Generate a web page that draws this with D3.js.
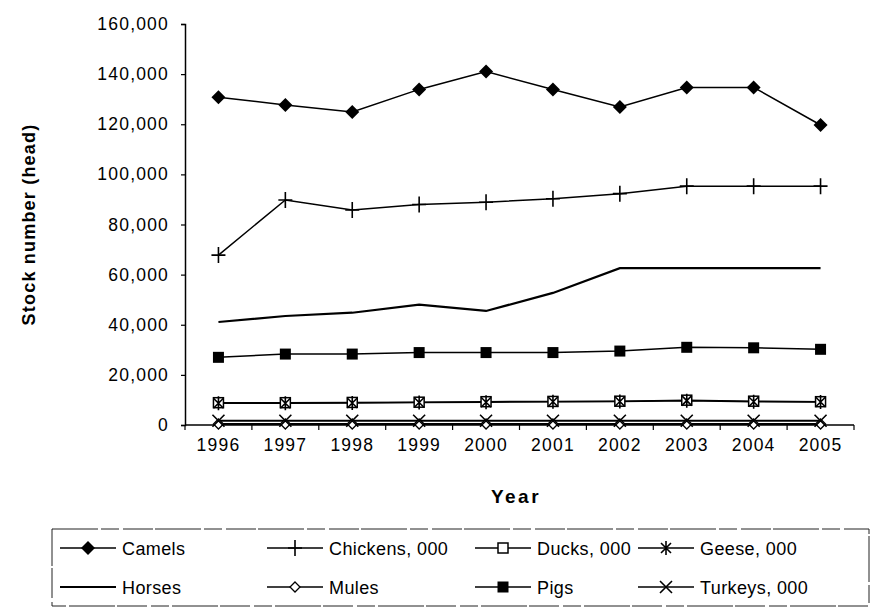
<!DOCTYPE html>
<html>
<head>
<meta charset="utf-8">
<script src="https://cdn.jsdelivr.net/npm/d3@7"></script>
<style>
  body { margin: 0; background: #fff; }
  text { font-family: Arial, "Liberation Sans", sans-serif; fill: #000; }
</style>
</head>
<body>
<div id="chart"></div>
<script>
// data
const years = [1996, 1997, 1998, 1999, 2000, 2001, 2002, 2003, 2004, 2005];
const camels   = [130800, 127700, 124900, 133900, 141000, 133900, 126900, 134700, 134700, 119700];
const chickens = [67800, 89800, 85800, 88000, 88900, 90300, 92300, 95300, 95300, 95300];
const ducks    = [8900, 8900, 9000, 9100, 9300, 9400, 9500, 9900, 9500, 9300];
const geese    = [8700, 8700, 8800, 9000, 9100, 9300, 9400, 9700, 9300, 9200];
const horses   = [41100, 43500, 44800, 48000, 45500, 52700, 62600, 62600, 62600, 62600];
const mules    = [400, 400, 400, 400, 400, 400, 400, 400, 400, 400];
const pigs     = [27000, 28300, 28300, 28900, 28900, 28900, 29500, 31000, 30800, 30200];
const turkeys  = [1700, 1700, 1700, 1700, 1700, 1700, 1700, 1700, 1700, 1700];
const yTicks = [0, 20000, 40000, 60000, 80000, 100000, 120000, 140000, 160000];

const series = [
    {name: "Camels", values: camels, marker: "diamond"},
    {name: "Chickens, 000", values: chickens, marker: "plus"},
    {name: "Ducks, 000", values: ducks, marker: "square"},
    {name: "Geese, 000", values: geese, marker: "star"},
    {name: "Horses", values: horses, marker: "none"},
    {name: "Mules", values: mules, marker: "diamondOpen"},
    {name: "Pigs", values: pigs, marker: "squareFilled"},
    {name: "Turkeys, 000", values: turkeys, marker: "cross"}
];

const W = 872, H = 609;
const margin = {top: 24, right: 18, bottom: 184, left: 185};
const width = W - margin.left - margin.right;
const height = H - margin.top - margin.bottom;

const svg = d3.select("#chart").append("svg")
    .attr("width", W)
    .attr("height", H);

const g = svg.append("g")
    .attr("transform", "translate(" + margin.left + "," + margin.top + ")");

// scales
const x = d3.scaleBand().domain(years).range([0, width]).padding(0);
const y = d3.scaleLinear().domain([0, 160000]).range([height, 0]);
const cx = d => x(d) + x.bandwidth() / 2;

// y axis
const yAxis = g.append("g")
    .attr("class", "axis axis--y")
    .call(d3.axisLeft(y).tickValues(yTicks).tickFormat(d3.format(",")).tickSize(4).tickPadding(12));
yAxis.select(".domain").attr("stroke", "#000").attr("stroke-width", 1.5);
yAxis.selectAll(".tick line").attr("stroke", "#000").attr("stroke-width", 1.2);
yAxis.selectAll("text").style("font-size", "17.5px").style("letter-spacing", "1.2px");

// x axis (labels centred, ticks between categories)
const xAxis = g.append("g")
    .attr("class", "axis axis--x")
    .attr("transform", "translate(0," + height + ")")
    .call(d3.axisBottom(x).tickSize(0).tickPadding(14));
xAxis.select(".domain").remove();
xAxis.selectAll("text").style("font-size", "17.5px").style("letter-spacing", "1.2px");

const edges = years.map(d => x(d)).concat([width]);
g.append("line")
    .attr("x1", 0).attr("x2", width)
    .attr("y1", height).attr("y2", height)
    .attr("stroke", "#000").attr("stroke-width", 1.5);
g.selectAll(".xtick").data(edges).enter().append("line")
    .attr("class", "xtick")
    .attr("x1", d => d).attr("x2", d => d)
    .attr("y1", height).attr("y2", height + 5)
    .attr("stroke", "#000").attr("stroke-width", 1.2);

// axis titles
svg.append("text")
    .attr("transform", "translate(35," + (margin.top + height / 2) + ") rotate(-90)")
    .attr("text-anchor", "middle")
    .style("font-size", "18px")
    .style("font-weight", "bold")
    .style("letter-spacing", "1.2px")
    .text("Stock number (head)");

svg.append("text")
    .attr("x", 516)
    .attr("y", 503)
    .attr("text-anchor", "middle")
    .style("font-size", "19px")
    .style("font-weight", "bold")
    .style("letter-spacing", "2.5px")
    .text("Year");

// marker drawing
function drawMarker(sel, type) {
    if (type === "diamond") {
        sel.append("path").attr("d", "M0,-7L7,0L0,7L-7,0Z").attr("fill", "#000");
    } else if (type === "diamondOpen") {
        sel.append("path").attr("d", "M0,-5L5,0L0,5L-5,0Z").attr("fill", "#fff").attr("stroke", "#000").attr("stroke-width", 1.3);
    } else if (type === "plus") {
        sel.append("path").attr("d", "M-7,0H7M0,-8V8").attr("stroke", "#000").attr("stroke-width", 1.6);
    } else if (type === "square") {
        sel.append("rect").attr("x", -5).attr("y", -5).attr("width", 10).attr("height", 10)
            .attr("fill", "#fff").attr("stroke", "#000").attr("stroke-width", 1.5);
    } else if (type === "squareFilled") {
        sel.append("rect").attr("x", -5.5).attr("y", -5.5).attr("width", 11).attr("height", 11).attr("fill", "#000");
    } else if (type === "star") {
        sel.append("path").attr("d", "M-5,-5L5,5M-5,5L5,-5M0,-7V7").attr("stroke", "#000").attr("stroke-width", 1.6);
    } else if (type === "cross") {
        sel.append("path").attr("d", "M-6,-6L6,6M-6,6L6,-6").attr("stroke", "#000").attr("stroke-width", 1.6);
    }
}

// lines
const line = d3.line()
    .x((d, i) => cx(years[i]))
    .y(d => y(d));

series.forEach(s => {
    g.append("path")
        .datum(s.values)
        .attr("d", line)
        .attr("fill", "none")
        .attr("stroke", "#000")
        .attr("stroke-width", s.name === "Horses" || s.name === "Mules" || s.name.startsWith("Turkeys") ? 2.2 : 1.5);
});

series.forEach(s => {
    if (s.marker === "none") return;
    s.values.forEach((v, i) => {
        const m = g.append("g").attr("transform", "translate(" + cx(years[i]) + "," + y(v) + ")");
        drawMarker(m, s.marker);
    });
});

// legend
const legendBox = {x: 52, y: 529, w: 817, h: 77};
svg.append("rect")
    .attr("x", legendBox.x).attr("y", legendBox.y)
    .attr("width", legendBox.w).attr("height", legendBox.h)
    .attr("fill", "none")
    .attr("stroke", "#222")
    .attr("stroke-width", 1)
    .attr("stroke-dasharray", "46,3,18,4,30,2");

const colX = [60, 267, 475, 638];
const rowY = [548, 587];
series.forEach((s, i) => {
    const col = i % 4, row = Math.floor(i / 4);
    const lg = svg.append("g").attr("transform", "translate(" + colX[col] + "," + rowY[row] + ")");
    lg.append("line").attr("x1", 0).attr("x2", 56).attr("y1", 0).attr("y2", 0)
        .attr("stroke", "#000").attr("stroke-width", s.name === "Horses" ? 2 : 1.5);
    const m = lg.append("g").attr("transform", "translate(28,0)");
    drawMarker(m, s.marker);
    lg.append("text")
        .attr("x", 62).attr("y", 6.5)
        .style("font-size", "18px")
        .style("letter-spacing", "0.4px")
        .text(s.name);
});
</script>
</body>
</html>
